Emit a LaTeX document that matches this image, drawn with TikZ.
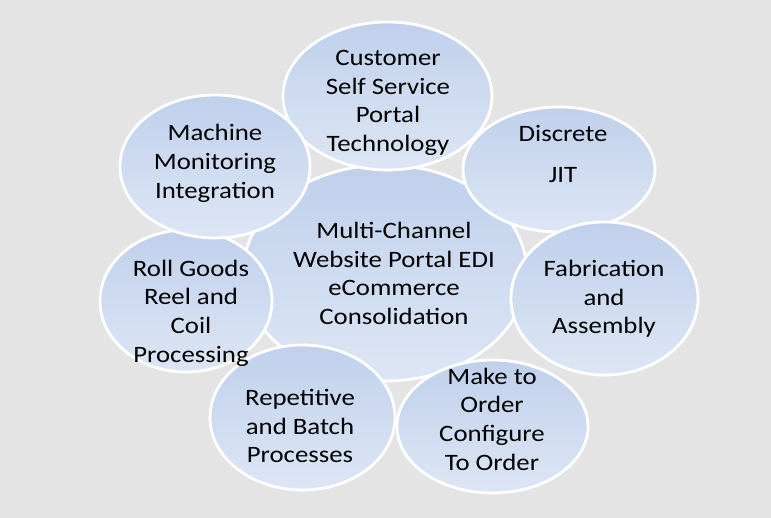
\documentclass[tikz,border=0pt]{standalone}
\usepackage{fontspec}
\setmainfont[FakeStretch=1.14]{Carlito}
\usetikzlibrary{shapes.geometric}
\definecolor{bg}{HTML}{E4E4E4}
\definecolor{topblue}{HTML}{C0D0EC}
\definecolor{botblue}{HTML}{DDE6F5}
\tikzset{
  bubble/.style={ellipse, draw=white, line width=2.8pt, top color=topblue, bottom color=botblue, inner sep=0pt},
  lbl/.style={align=center, font=\fontsize{23.5}{28.7}\selectfont, text=black, inner sep=0pt}
}
\begin{document}
\begin{tikzpicture}[x=1pt,y=-1pt]
\fill[bg] (0,0) rectangle (771,518);
\useasboundingbox (0,0) rectangle (771,518);
% central
\node[bubble, minimum width=284pt, minimum height=216pt] (center) at (385,273) {};
\node[bubble, minimum width=209pt, minimum height=148pt] (cust) at (387.5,96) {};
\node[bubble, minimum width=192pt, minimum height=125pt] (disc) at (559,169.5) {};
\node[bubble, minimum width=187pt, minimum height=153pt] (fab) at (604.5,298.5) {};
\node[bubble, minimum width=191pt, minimum height=133pt] (mto) at (492.5,426.5) {};
\node[bubble, minimum width=185pt, minimum height=145pt] (rep) at (302.5,417.5) {};
\node[bubble, minimum width=172pt, minimum height=142pt] (roll) at (186,301) {};
\node[bubble, minimum width=190pt, minimum height=143pt] (mach) at (215,166.5) {};
% labels
\node[lbl] (tcenter) at (394,273.5) {Multi-Channel\\Website Portal EDI\\eCommerce\\Consolidation};
\node[lbl] (tcust) at (388,103) {Customer\\Self Service\\Portal\\Technology};
\node[lbl] (tdisc1) at (563,134) {Discrete};
\node[lbl] (tdisc2) at (563,175) {JIT};
\node[lbl] (tfab) at (604,299) {Fabrication\\and\\Assembly};
\node[lbl] (tmto) at (492,419) {Make to\\Order\\Configure\\To Order};
\node[lbl] (trep) at (300,426) {Repetitive\\and Batch\\Processes};
\node[lbl] (troll) at (191,313) {Roll Goods\\Reel and\\Coil\\Processing};
\node[lbl] (tmach) at (215,163.5) {Machine\\Monitoring\\Integration};
\end{tikzpicture}
\end{document}
